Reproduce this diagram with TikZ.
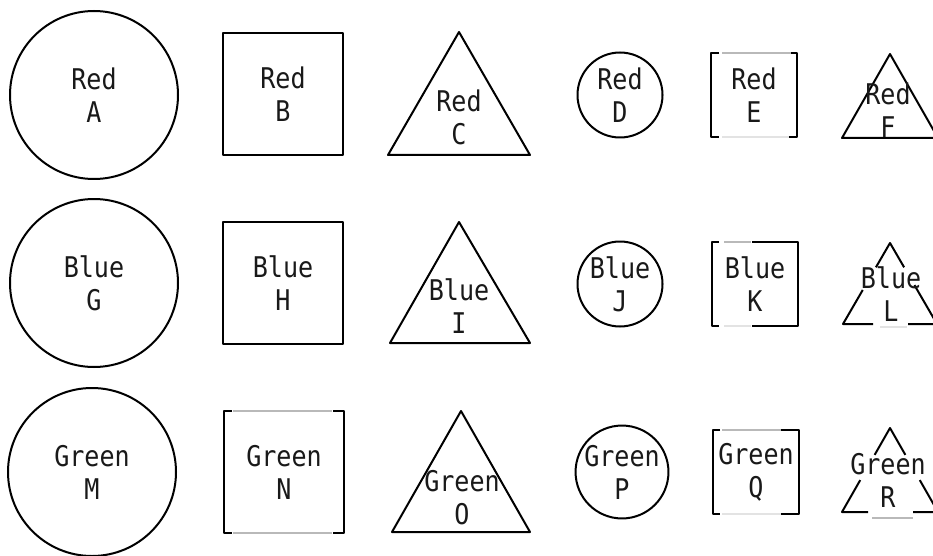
\documentclass[tikz,border=0pt]{standalone}
\usepackage{fontspec}
\setmonofont{DejaVu Sans Mono}[FakeStretch=0.88]
\usetikzlibrary{calc}

\begin{document}
\begin{tikzpicture}[x=1pt,y=-1pt,line width=2pt,line join=round,
  lbl/.style={font=\ttfamily\fontsize{28.5}{33}\selectfont,text=black!90,align=center,inner sep=0pt,outer sep=0pt},
  bigc/.style={lbl,circle,draw,minimum size=168pt},
  smc/.style={lbl,circle,draw,minimum size=85pt},
  bigsq/.style={lbl,rectangle,minimum width=120pt,minimum height=122pt},
  smsq/.style={lbl,rectangle,minimum width=86pt,minimum height=84pt},
  fade/.style={draw=gray!55},
  faint/.style={draw=gray!22}]
\clip (0,0) rectangle (933,556);
\fill[white] (0,0) rectangle (933,556);
% column 1: big circles
\node[bigc] (A) at (94,95) {Red\\A};
\node[bigc] (G) at (94,283) {Blue\\G};
\node[bigc] (M) at (92,472) {Green\\M};
% column 2: big squares
\node[bigsq,draw] (B) at (283,94) {Red\\B};
\node[bigsq,draw] (H) at (283,283) {Blue\\H};
\node[bigsq] (N) at (284,472) {Green\\N};
\draw ([xshift=8pt]N.north west) -- (N.north west) -- (N.south west) -- ([xshift=8pt]N.south west);
\draw ([xshift=-11pt]N.north east) -- (N.north east) -- (N.south east) -- ([xshift=-11pt]N.south east);
\draw[fade] ([xshift=9pt]N.north west) -- ([xshift=-12pt]N.north east);
\draw[fade] ([xshift=9pt]N.south west) -- ([xshift=-12pt]N.south east);
% column 3: big triangles
\draw (388,155) -- (459,32) -- (530,155) -- cycle;
\node[lbl] (C) at (459,117) {Red\\C};
\draw (390,343) -- (459,222) -- (530,343) -- cycle;
\node[lbl] (I) at (459,306) {Blue\\I};
\draw (392,532) -- (461,411) -- (530,532) -- cycle;
\node[lbl] (O) at (462,498) {Green\\O};
% column 4: small circles
\node[smc] (D) at (620,95) {Red\\D};
\node[smc] (J) at (620,284) {Blue\\J};
\node[smc] (P) at (622,472) {Green\\P};
% column 5: small squares
\node[smsq] (E) at (754,95) {Red\\E};
\draw ([xshift=8pt]E.north west) -- (E.north west) -- (E.south west) -- ([xshift=8pt]E.south west);
\draw ([xshift=-10pt]E.north east) -- (E.north east) -- (E.south east) -- ([xshift=-10pt]E.south east);
\draw[fade] ([xshift=11pt]E.north west) -- ([xshift=-6pt]E.north east);
\draw[faint] ([xshift=11pt]E.south west) -- ([xshift=-8pt]E.south east);
\node[smsq] (K) at (755,284) {Blue\\K};
\draw ([xshift=7pt]K.north west) -- (K.north west) -- (K.south west) -- ([xshift=7pt]K.south west);
\draw ([xshift=-46pt]K.north east) -- (K.north east) -- (K.south east) -- ([xshift=-46pt]K.south east);
\draw[fade] ([xshift=12pt]K.north west) -- ([xshift=-47pt]K.north east);
\draw[faint] ([xshift=12pt]K.south west) -- ([xshift=-47pt]K.south east);
\node[smsq] (Q) at (756,472) {Green\\Q};
\draw ([xshift=7pt]Q.north west) -- (Q.north west) -- (Q.south west) -- ([xshift=7pt]Q.south west);
\draw ([xshift=-18pt]Q.north east) -- (Q.north east) -- (Q.south east) -- ([xshift=-18pt]Q.south east);
\draw[fade] ([xshift=9pt]Q.north west) -- ([xshift=-18pt]Q.north east);
\draw[faint] ([xshift=9pt]Q.south west) -- ([xshift=-18pt]Q.south east);
% column 6: small triangles, cut by the right edge
\draw (842,138) -- (890,54) -- (938,138) -- cycle;
\node[lbl] (F) at (888,110) {Red\\F};
\coordinate (Lt) at (890,243);
\coordinate (Ll) at (843,324);
\coordinate (Lr) at (937,324);
\draw ($(Lt)!0.30!(Ll)$) -- (Lt) -- ($(Lt)!0.30!(Lr)$);
\draw ($(Lt)!0.58!(Ll)$) -- (Ll) -- (873,324);
\draw ($(Lt)!0.52!(Lr)$) -- (Lr) -- (908,324);
\draw[faint] (880,327) -- (907,327);
\node[lbl] (L) at (891,294) {Blue\\L};
\coordinate (Rt) at (890,428);
\coordinate (Rl) at (842,512);
\coordinate (Rr) at (938,512);
\draw ($(Rt)!0.32!(Rl)$) -- (Rt) -- ($(Rt)!0.32!(Rr)$);
\draw ($(Rt)!0.62!(Rl)$) -- (Rl) -- (868,512);
\draw ($(Rt)!0.62!(Rr)$) -- (Rr) -- (913,512);
\draw[fade] (872,518) -- (913,518);
\node[lbl] (R) at (888,480) {Green\\R};
\end{tikzpicture}
\end{document}
